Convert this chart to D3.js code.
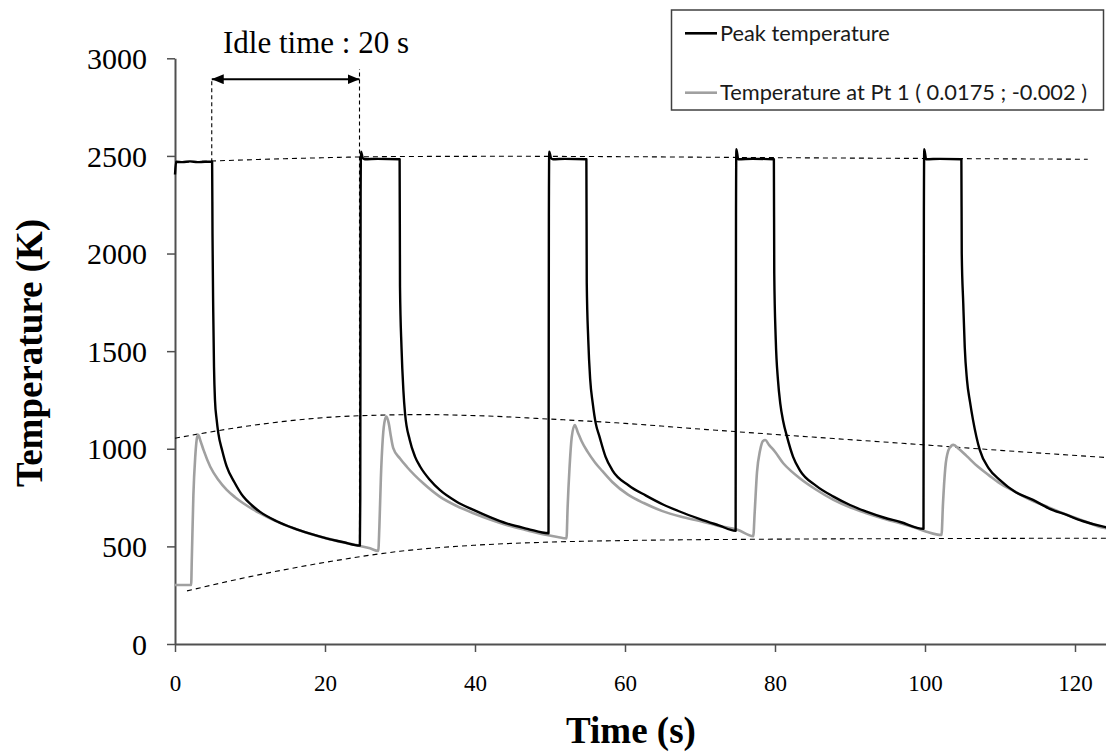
<!DOCTYPE html>
<html>
<head>
<meta charset="utf-8">
<script src="https://cdn.jsdelivr.net/npm/d3@7"></script>
<style>
  html, body { margin: 0; padding: 0; background: #fff; }
  svg { display: block; }
</style>
</head>
<body>
<svg id="chart" width="1106" height="756"></svg>
<script>
// ---------------- DATA ----------------
const xTicks = [0, 20, 40, 60, 80, 100, 120];
const yTicks = [0, 500, 1000, 1500, 2000, 2500, 3000];
const seriesNames = ["Peak temperature", "Temperature at Pt 1 ( 0.0175 ; -0.002 )"];

// Peak temperature [time s, temperature K]
const peakTemp = [
  [0,2405],[0.15,2470],[1,2468],[2,2472],[3,2468],[4,2470],[4.95,2470],
  [5.0,2100],[5.1,1700],[5.2,1420],[5.33,1250],[5.55,1150],[5.78,1079],[6.3,990],[6.9,908],[7.9,830],[9.1,755],[10.2,712],[11.3,678],[13.5,630],[15.8,593],[18,565],[20.2,541],[22.5,521],[24.65,504],
  [24.7,740],[24.75,2300],[24.8,2522],[25.05,2488],[25.3,2483],[27,2485],[29.95,2483],
  [30.0,1830],[30.2,1520],[30.45,1300],[30.67,1182],[31.3,1045],[32,960],[32.7,908],[34,840],[35.3,789],[37.5,730],[39.8,687],[42,650],[44.2,618],[47,590],[49.8,567],
  [49.85,2200],[49.9,2522],[50.15,2488],[50.4,2483],[52,2485],[54.85,2483],
  [54.9,1850],[55.1,1560],[55.35,1360],[55.7,1233],[56.1,1130],[56.6,1062],[57.4,960],[58.3,891],[60.5,812],[62.8,760],[65,716],[67.2,680],[70,640],[72.5,608],[74.75,580],
  [74.8,2200],[74.85,2534],[75.1,2483],[77,2485],[79.85,2483],
  [79.9,1900],[80.1,1560],[80.4,1350],[80.7,1233],[81.1,1140],[81.6,1062],[82.4,960],[83.3,891],[85.5,810],[87.8,755],[90,712],[92.2,678],[94.5,648],[96.7,625],[99.8,590],
  [99.85,2200],[99.9,2534],[100.15,2483],[102,2485],[104.85,2483],
  [104.9,2000],[105.1,1745],[105.3,1520],[105.6,1352],[106,1240],[106.4,1148],[107.3,994],[108.5,900],[110,840],[112,780],[114.4,738],[116.5,695],[118.9,661],[121,630],[123.8,601],[125,592]
];

// Temperature at Pt 1 [time s, temperature K]
const pt1Temp = [
  [0,302],[2.15,302],[2.25,450],[2.45,760],[2.7,960],[2.95,1060],[3.1,1071],[3.4,1040],[3.8,994],[4.7,908],[5.8,840],[6.9,789],[8,752],[9.1,721],[11.3,670],[13.5,628],[15.8,593],[18,565],[20.2,541],[22.5,520],[24.7,502],[26,490],[27.1,477],
  [27.25,600],[27.45,850],[27.7,1050],[28.0,1150],[28.2,1165],[28.5,1130],[28.8,1060],[29.1,1003],[30,950],[30.9,908],[33.1,823],[35.3,755],[37.5,708],[39.8,670],[42,638],[44.2,610],[47,582],[49.6,558],[51,548],[52.2,541],
  [52.35,700],[52.6,900],[52.9,1060],[53.3,1122],[53.7,1085],[54.2,1040],[55,985],[56,930],[57,885],[58.3,830],[60.4,765],[62.5,722],[64.9,682],[67.5,652],[70,630],[72.5,605],[75,585],[77.1,552],
  [77.3,680],[77.6,880],[78,990],[78.4,1040],[78.7,1045],[79.2,1020],[80,985],[81.1,926],[82.2,884],[83.3,849],[85.5,790],[87.8,738],[90,700],[92.2,670],[94.5,642],[96.7,618],[98.5,598],[100.2,575],[102.2,558],
  [102.4,720],[102.7,900],[103.1,990],[103.5,1015],[103.8,1020],[104.5,1000],[105.5,965],[107,910],[108.5,865],[110,822],[112,780],[114.4,732],[116.5,700],[118.9,662],[121,633],[123.8,595],[125,588]
];

// dashed guide curves
const upperGuide = [[0,2467],[15,2486],[30,2497],[45,2498],[60,2496],[80,2491],[100,2487],[121.7,2483]];
const middleGuide = [[0,1054],[10,1118],[20,1160],[27,1172],[33,1175],[40,1170],[50,1152],[60,1130],[70,1101],[85,1060],[97,1028],[110,992],[125,953]];
const lowerGuide = [[1.6,272],[10,345],[20,418],[30,475],[40,506],[50,522],[60,530],[80,537],[100,540],[125,542]];

// idle-time annotation
const idleLabel = "Idle time : 20 s";
const idleStart = [4.9, 2467, 2893];   // time, bottom T, top T
const idleEnd = [24.6, 504, 2945];
const idleArrowT = 2893;

// ---------------- CHART ----------------
const svg = d3.select("#chart");
const x = d3.scaleLinear().domain([0, 125]).range([175, 1112.5]);
const y = d3.scaleLinear().domain([0, 3000]).range([644, 58.3]);

const defs = svg.append("defs");
["start", "end"].forEach(k => {
  defs.append("marker")
    .attr("id", "arrow-" + k)
    .attr("viewBox", "0 0 12 10")
    .attr("refX", k === "end" ? 12 : 0).attr("refY", 5)
    .attr("markerWidth", 12).attr("markerHeight", 10)
    .attr("markerUnits", "userSpaceOnUse")
    .attr("orient", "auto")
    .append("path")
    .attr("d", k === "end" ? "M0,0 L12,5 L0,10 Z" : "M12,0 L0,5 L12,10 Z")
    .attr("fill", "#000");
});

// axes
const axisColor = "#505050";
const xAxis = svg.append("g").attr("transform", `translate(0,${y(0)})`)
  .call(d3.axisBottom(x).tickValues(xTicks).tickSize(8).tickSizeOuter(0).tickFormat(d3.format("d")));
xAxis.select(".domain").attr("stroke", axisColor).attr("stroke-width", 2);
xAxis.selectAll(".tick line").attr("stroke", axisColor).attr("stroke-width", 1.5);
xAxis.selectAll(".tick text")
  .attr("font-family", "'Liberation Serif', 'Times New Roman', serif")
  .attr("font-size", 23).attr("fill", "#000").attr("dy", null).attr("y", 47);

const yAxis = svg.append("g").attr("transform", `translate(${x(0)},0)`)
  .call(d3.axisLeft(y).tickValues(yTicks).tickSize(8).tickSizeOuter(0).tickFormat(d3.format("d")));
yAxis.select(".domain").attr("stroke", axisColor).attr("stroke-width", 2);
yAxis.selectAll(".tick line").attr("stroke", axisColor).attr("stroke-width", 1.5);
yAxis.selectAll(".tick text")
  .attr("font-family", "'Liberation Serif', 'Times New Roman', serif")
  .attr("font-size", 30).attr("fill", "#000").attr("x", -28).attr("dy", "0.34em");

// axis titles
svg.append("text")
  .attr("x", 631).attr("y", 743)
  .attr("text-anchor", "middle")
  .attr("font-family", "'Liberation Serif', 'Times New Roman', serif")
  .attr("font-weight", "bold").attr("font-size", 37)
  .text("Time (s)");
svg.append("text")
  .attr("transform", "translate(42,353) rotate(-90)")
  .attr("text-anchor", "middle")
  .attr("font-family", "'Liberation Serif', 'Times New Roman', serif")
  .attr("font-weight", "bold").attr("font-size", 37)
  .text("Temperature (K)");

// guides
const guideLine = d3.line().x(d => x(d[0])).y(d => y(d[1])).curve(d3.curveMonotoneX);
[upperGuide, middleGuide, lowerGuide].forEach(g => {
  svg.append("path").attr("d", guideLine(g))
    .attr("fill", "none").attr("stroke", "#000").attr("stroke-width", 1.1)
    .attr("stroke-dasharray", "5,4");
});

// idle annotation
[idleStart, idleEnd].forEach(v => {
  svg.append("line")
    .attr("x1", x(v[0])).attr("x2", x(v[0]))
    .attr("y1", y(v[1])).attr("y2", y(v[2]))
    .attr("stroke", "#000").attr("stroke-width", 1.1).attr("stroke-dasharray", "4,3");
});
svg.append("line")
  .attr("x1", x(idleStart[0])).attr("x2", x(idleEnd[0]))
  .attr("y1", y(idleArrowT)).attr("y2", y(idleArrowT))
  .attr("stroke", "#000").attr("stroke-width", 2)
  .attr("marker-start", "url(#arrow-start)").attr("marker-end", "url(#arrow-end)");
svg.append("text")
  .attr("x", 223).attr("y", 53)
  .attr("font-family", "'Liberation Serif', 'Times New Roman', serif")
  .attr("font-size", 31).attr("fill", "#000")
  .text(idleLabel);

// series
const line = d3.line().x(d => x(d[0])).y(d => y(d[1])).curve(d3.curveMonotoneX);
svg.append("path").attr("d", line(pt1Temp))
  .attr("fill", "none").attr("stroke", "#a0a0a0").attr("stroke-width", 2.6).attr("stroke-linejoin", "round");
svg.append("path").attr("d", line(peakTemp))
  .attr("fill", "none").attr("stroke", "#000").attr("stroke-width", 2.4).attr("stroke-linejoin", "round");

// legend
const lg = svg.append("g");
lg.append("rect").attr("x", 671.5).attr("y", 10).attr("width", 432).attr("height", 100)
  .attr("fill", "#fff").attr("stroke", "#404040").attr("stroke-width", 1.5);
const legendColors = ["#000", "#a0a0a0"];
const legendY = [33.3, 92.7];
const texts = [];
seriesNames.forEach((name, i) => {
  lg.append("line").attr("x1", 685).attr("x2", 717).attr("y1", legendY[i]).attr("y2", legendY[i])
    .attr("stroke", legendColors[i]).attr("stroke-width", 2.6);
  texts.push(lg.append("text").attr("x", 720).attr("y", legendY[i]).attr("dy", "0.35em")
    .attr("font-family", "Lato, 'Open Sans', sans-serif").attr("font-size", 22)
    .attr("fill", "#1a1a1a").text(name));
});
// fit long legend label to measured width of the reference
const w = texts[1].node().getComputedTextLength();
const fs = 22 * 367 / w;
texts.forEach(t => t.attr("font-size", fs.toFixed(2)));
</script>
</body>
</html>
